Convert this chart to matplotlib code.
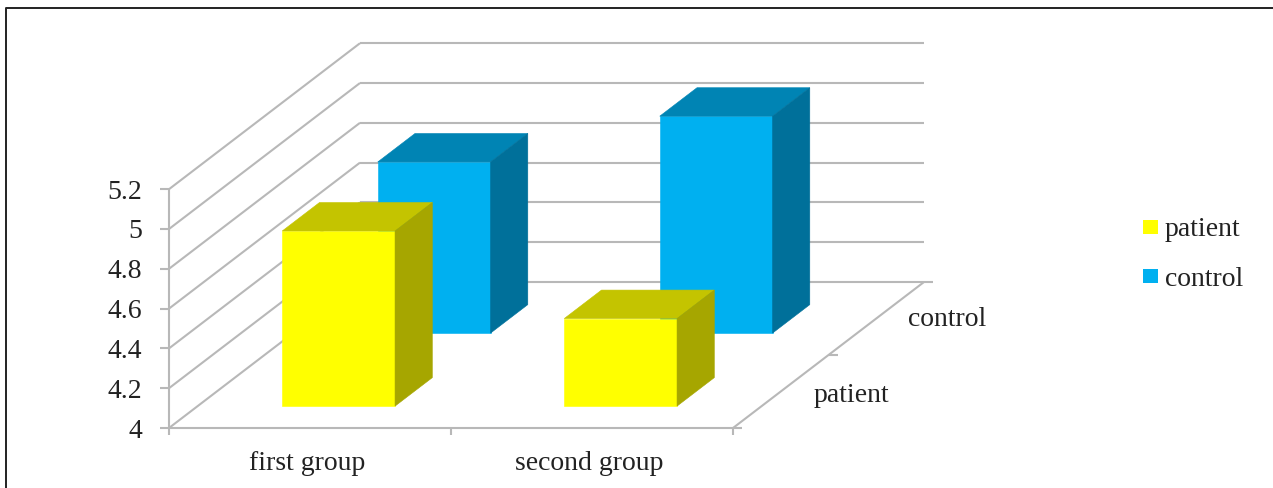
import matplotlib
matplotlib.use('Agg')
import matplotlib.pyplot as plt

groups = ['first group', 'second group']
series = ['patient', 'control']
patient = [4.88, 4.44]
control = [4.86, 5.09]
value_ticks = [4, 4.2, 4.4, 4.6, 4.8, 5, 5.2]
value_labels = ['4', '4.2', '4.4', '4.6', '4.8', '5', '5.2']

# oblique projection of the 3d box, in figure pixels
X0, Y0 = 169.0, 429.0
CAT_W = 282.0
UNIT_H = 199.0
DEPTH_X, DEPTH_Y = 191.0, -146.0
VMIN = 4.0

GRID = '#b8b8b8'
TEXT = '#222222'
FONT = 'Liberation Serif'
FS = 20


def proj(cat, depth, value):
    x = X0 + cat * CAT_W + depth * DEPTH_X
    y = Y0 - (value - VMIN) * UNIT_H + depth * DEPTH_Y
    return x, y


def draw_bar(ax, cat, ser, value, front, top, side):
    c0, c1 = cat + 0.3, cat + 0.7
    d0, d1 = ser * 0.5 + 0.15, ser * 0.5 + 0.345
    faces = [
        ([(c0, d0, VMIN), (c1, d0, VMIN), (c1, d0, value), (c0, d0, value)], front),
        ([(c0, d0, value), (c1, d0, value), (c1, d1, value), (c0, d1, value)], top),
        ([(c1, d0, VMIN), (c1, d1, VMIN), (c1, d1, value), (c1, d0, value)], side),
    ]
    for pts, color in faces:
        xy = [proj(*p) for p in pts]
        ax.fill([p[0] for p in xy], [p[1] for p in xy], color=color, lw=0.4, zorder=3 + ser * -1)


def line(ax, a, b, color=GRID, lw=1.5, z=1):
    ax.plot([a[0], b[0]], [a[1], b[1]], color=color, lw=lw, zorder=z, solid_capstyle='butt')


fig = plt.figure(figsize=(12.73, 4.89), dpi=100)
ax = fig.add_axes([0, 0, 1, 1])
ax.set_xlim(0, 1273)
ax.set_ylim(489, 0)
ax.axis('off')

# outer frame, open on the right and at the bottom
ax.plot([6, 6, 1273], [489, 9, 9], color='#222222', lw=1.4, zorder=0)

# wall gridlines, the left wall runs along the depth axis
n_cat = len(groups)
for v, label in zip(value_ticks, value_labels):
    line(ax, proj(0, 0, v), proj(0, 1, v))
    line(ax, proj(0, 1, v), proj(n_cat, 1, v))
    sx, sy = proj(0, 0, v)
    line(ax, (sx - 9, sy), (sx, sy))
    ax.text(sx - 27, sy + 2, label, ha='right', va='center', family=FONT, fontsize=FS, color=TEXT)

# floor edges and ticks
line(ax, proj(0, 0, VMIN), proj(0, 0, value_ticks[-1]))
line(ax, proj(0, 0, VMIN), proj(n_cat, 0, VMIN))
line(ax, proj(n_cat, 0, VMIN), proj(n_cat, 1, VMIN))
for c in range(n_cat + 1):
    x, y = proj(c, 0, VMIN)
    line(ax, (x, y), (x, y + 7))
for d in [0, 0.5, 1]:
    x, y = proj(n_cat, d, VMIN)
    line(ax, (x, y), (x + 9, y))

for i, name in enumerate(groups):
    x, y = proj(i + 0.5, 0, VMIN)
    ax.text(x - 3, y + 35, name, ha='center', va='center', family=FONT, fontsize=FS, color=TEXT)

# depth axis labels
ax.text(889, 395, series[0], ha='right', va='center', family=FONT, fontsize=FS, color=TEXT)
ax.text(986, 320, series[1], ha='right', va='center', family=FONT, fontsize=FS, color=TEXT)

# back row first so the patient bars sit in front
for i in range(n_cat):
    draw_bar(ax, i, 1, control[i], '#00b0f0', '#0084b4', '#00709a')
for i in range(n_cat):
    draw_bar(ax, i, 0, patient[i], '#ffff00', '#c4c400', '#a6a600')

# legend
for name, color, ly in zip(series, ['#ffff00', '#00b0f0'], [228, 277]):
    ax.fill([1143, 1158, 1158, 1143], [ly - 7, ly - 7, ly + 7, ly + 7], color=color, lw=0)
    ax.text(1165, ly + 2, name, ha='left', va='center', family=FONT, fontsize=FS, color=TEXT)

fig.savefig('out.png', dpi=100)
